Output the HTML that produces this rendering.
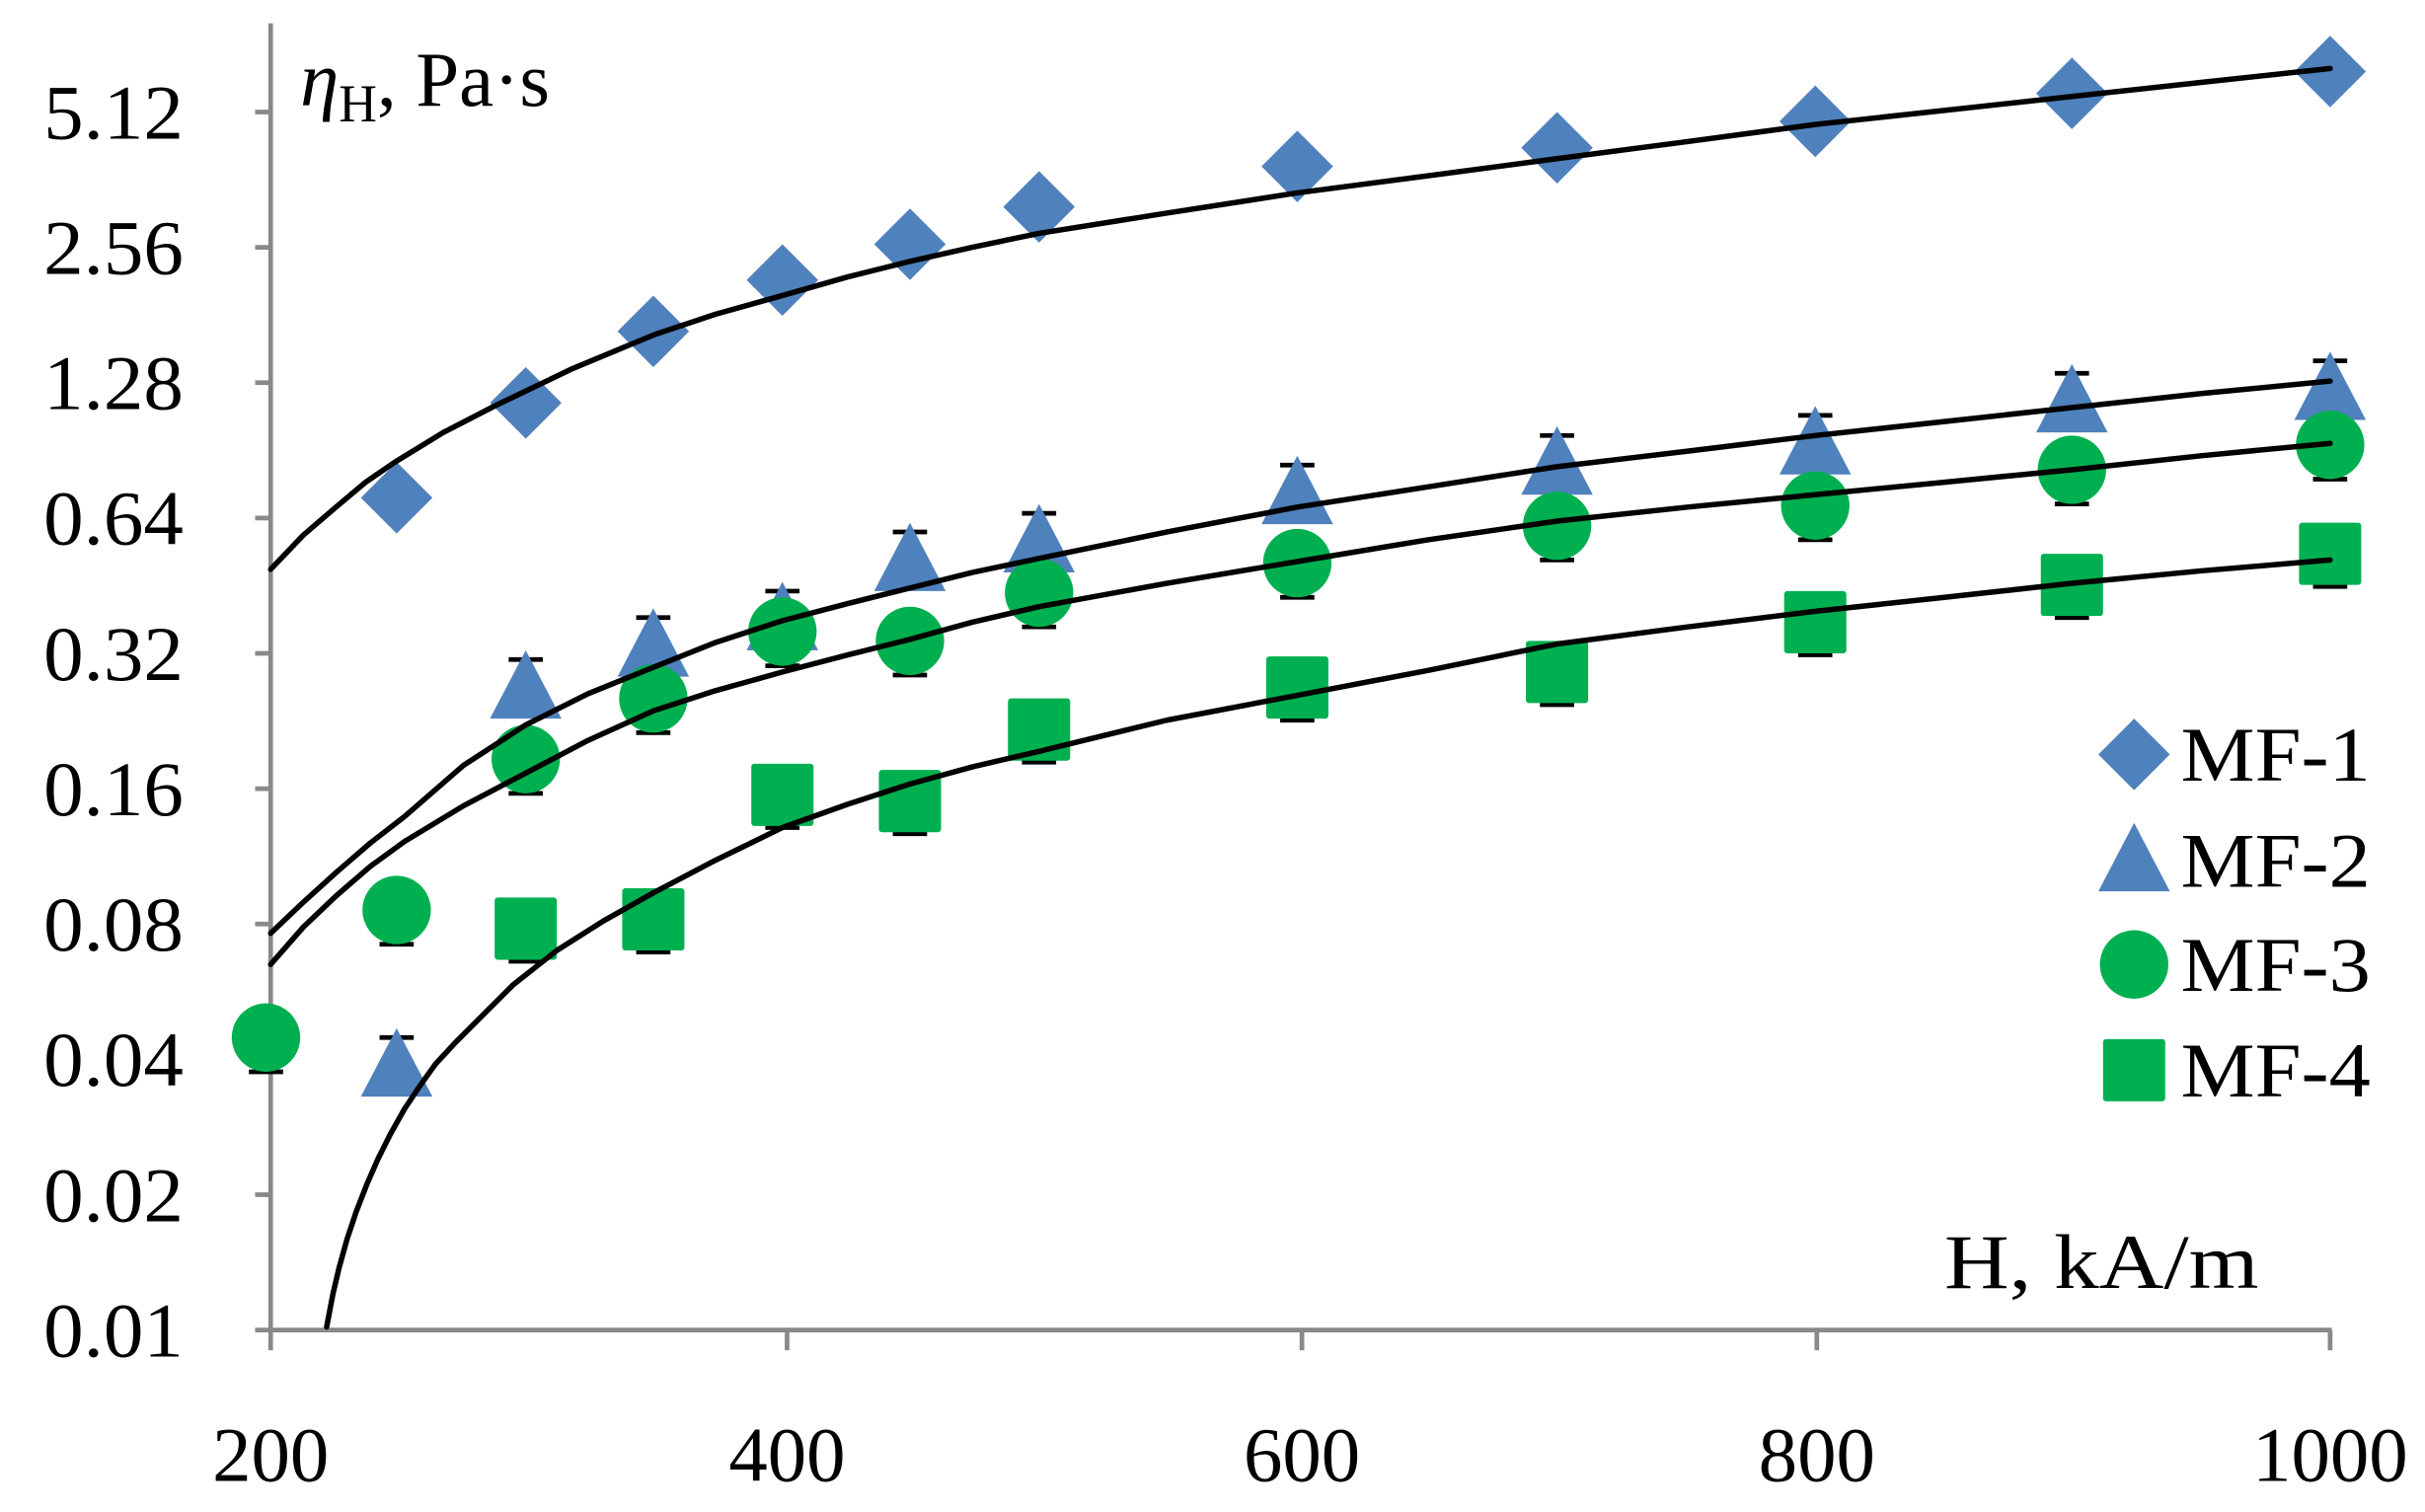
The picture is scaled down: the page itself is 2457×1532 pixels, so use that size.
<!DOCTYPE html>
<html><head><meta charset="utf-8"><style>
html,body{margin:0;padding:0;background:#fff;}
svg{display:block;}
text{font-family:"Liberation Serif",serif;fill:#000;}
</style></head><body>
<svg width="2457" height="1532" viewBox="0 0 1559 972" preserveAspectRatio="none" xmlns="http://www.w3.org/2000/svg">
<defs>
<path id="dia" d="M0,-23 L23,0 L0,23 L-23,0 Z" fill="#4F81BD"/>
<path id="tri" d="M0,-24 L23,20 L-23,20 Z" fill="#4F81BD"/>
<circle id="cir" r="22" fill="#00B050"/>
<rect id="sq" x="-20" y="-20" width="40" height="40" rx="2" fill="#00B050"/>
<path id="capu" d="M-11,-20 h22" stroke="#000" stroke-width="3"/>
<path id="capd" d="M-11,22 h22" stroke="#000" stroke-width="3"/>
<path id="capds" d="M-11,21 h22" stroke="#000" stroke-width="3"/>
</defs>
<g stroke="#898989" stroke-width="3" fill="none">
<path d="M174,15 V856"/>
<path d="M164,855 H1499"/>
<path d="M164,72 h10 M164,159 h10 M164,246 h10 M164,333 h10 M164,420 h10 M164,507 h10 M164,594 h10 M164,681 h10 M164,768 h10"/>
<path d="M174,855 v13 M506,855 v13 M837,855 v13 M1168,855 v13 M1498,855 v13"/>
</g>
<g font-size="50" text-anchor="end">
<text x="118" y="89" textLength="90" lengthAdjust="spacingAndGlyphs">5.12</text>
<text x="118" y="176" textLength="90" lengthAdjust="spacingAndGlyphs">2.56</text>
<text x="118" y="263" textLength="90" lengthAdjust="spacingAndGlyphs">1.28</text>
<text x="118" y="350" textLength="90" lengthAdjust="spacingAndGlyphs">0.64</text>
<text x="118" y="437" textLength="90" lengthAdjust="spacingAndGlyphs">0.32</text>
<text x="118" y="524" textLength="90" lengthAdjust="spacingAndGlyphs">0.16</text>
<text x="118" y="611" textLength="90" lengthAdjust="spacingAndGlyphs">0.08</text>
<text x="118" y="698" textLength="90" lengthAdjust="spacingAndGlyphs">0.04</text>
<text x="118" y="785" textLength="90" lengthAdjust="spacingAndGlyphs">0.02</text>
<text x="118" y="872" textLength="90" lengthAdjust="spacingAndGlyphs">0.01</text>
</g>
<g font-size="50" text-anchor="middle">
<text x="174" y="952">200</text>
<text x="506" y="952">400</text>
<text x="837" y="952">600</text>
<text x="1168" y="952">800</text>
<text x="1498" y="952">1000</text>
</g>
<text x="193" y="68" font-size="50"><tspan font-style="italic">η</tspan><tspan font-size="34" dy="10">H</tspan><tspan dy="-10">, Pa·s</tspan></text>
<text x="1452" y="828" font-size="50" text-anchor="end" textLength="202" lengthAdjust="spacingAndGlyphs">H, kA/m</text>

<g>
<use href="#capu" x="255" y="687"/><use href="#capu" x="338" y="444"/><use href="#capu" x="420" y="417"/><use href="#capu" x="503" y="400"/><use href="#capu" x="585" y="362"/><use href="#capu" x="668" y="350"/><use href="#capu" x="834" y="319"/><use href="#capu" x="1001" y="300"/><use href="#capu" x="1167" y="287"/><use href="#capu" x="1332" y="260"/><use href="#capu" x="1498" y="252"/>
<use href="#capd" x="171" y="667"/><use href="#capd" x="255" y="585"/><use href="#capd" x="338" y="488"/><use href="#capd" x="420" y="449"/><use href="#capd" x="503" y="406"/><use href="#capd" x="585" y="412"/><use href="#capd" x="668" y="381"/><use href="#capd" x="834" y="362"/><use href="#capd" x="1001" y="338"/><use href="#capd" x="1167" y="325"/><use href="#capd" x="1332" y="302"/><use href="#capd" x="1498" y="286"/>
<use href="#capds" x="338" y="597"/><use href="#capds" x="420" y="591"/><use href="#capds" x="503" y="511"/><use href="#capds" x="585" y="515"/><use href="#capds" x="668" y="469"/><use href="#capds" x="834" y="442"/><use href="#capds" x="1001" y="432"/><use href="#capds" x="1167" y="400"/><use href="#capds" x="1332" y="376"/><use href="#capds" x="1498" y="356"/>
</g>
<g>
<use href="#dia" x="255" y="320"/><use href="#dia" x="338" y="259"/><use href="#dia" x="420" y="213"/><use href="#dia" x="503" y="180"/><use href="#dia" x="585" y="157"/><use href="#dia" x="668" y="133"/><use href="#dia" x="834" y="107"/><use href="#dia" x="1001" y="95"/><use href="#dia" x="1167" y="78"/><use href="#dia" x="1332" y="60"/><use href="#dia" x="1498" y="46"/>
<use href="#tri" x="255" y="685"/><use href="#tri" x="338" y="442"/><use href="#tri" x="420" y="415"/><use href="#tri" x="503" y="398"/><use href="#tri" x="585" y="360"/><use href="#tri" x="668" y="348"/><use href="#tri" x="834" y="317"/><use href="#tri" x="1001" y="298"/><use href="#tri" x="1167" y="285"/><use href="#tri" x="1332" y="258"/><use href="#tri" x="1498" y="250"/>
<use href="#cir" x="171" y="667"/><use href="#cir" x="255" y="585"/><use href="#cir" x="338" y="488"/><use href="#cir" x="420" y="449"/><use href="#cir" x="503" y="406"/><use href="#cir" x="585" y="412"/><use href="#cir" x="668" y="381"/><use href="#cir" x="834" y="362"/><use href="#cir" x="1001" y="338"/><use href="#cir" x="1167" y="325"/><use href="#cir" x="1332" y="302"/><use href="#cir" x="1498" y="286"/>
<use href="#sq" x="338" y="597"/><use href="#sq" x="420" y="591"/><use href="#sq" x="503" y="511"/><use href="#sq" x="585" y="515"/><use href="#sq" x="668" y="469"/><use href="#sq" x="834" y="442"/><use href="#sq" x="1001" y="432"/><use href="#sq" x="1167" y="400"/><use href="#sq" x="1332" y="376"/><use href="#sq" x="1498" y="356"/>
</g>
<g fill="none" stroke="#000" stroke-width="3.5" stroke-linejoin="round" stroke-linecap="round">
<polyline points="174,366 195,344 216,326 235,310 254,297 285,278 318,261 368,237 421,215 460,202 503,190 545,178 585,168 625,159 668,150 750,137 834,124 918,113 1001,102 1085,91 1167,80 1250,71 1332,62 1415,53 1498,44"/>
<polyline points="174,600 195,580 216,561 238,542 260,525 298,492 338,466 378,446 420,429 460,413 503,399 545,388 585,378 625,368 668,359 750,342 834,326 918,313 1001,300 1085,290 1167,280 1250,271 1332,262 1415,253 1498,245"/>
<polyline points="174,620 195,596 216,576 238,557 260,541 298,518 338,497 378,476 420,457 460,444 503,432 545,421 585,411 625,400 668,390 750,375 834,361 918,347 1001,335 1085,326 1167,318 1250,310 1332,302 1415,293 1498,285"/>
<polyline points="210,853 214,832 218,815 223,797 229,779 236,761 243,745 251,729 260,713 270,698 280,684 292,671 305,658 330,633 358,611 388,592 420,574 460,553 503,532 545,517 585,504 625,493 668,483 750,463 834,447 918,431 1001,414 1085,403 1167,393 1250,384 1332,375 1415,367 1498,360"/>
</g>
<g>
<use href="#dia" x="1372" y="485"/>
<use href="#tri" x="1372" y="553"/>
<use href="#cir" x="1372" y="620"/>
<use href="#sq" x="1372" y="688"/>
</g>
<g font-size="50">
<text x="1402" y="502" textLength="122" lengthAdjust="spacingAndGlyphs">MF-1</text>
<text x="1402" y="570" textLength="122" lengthAdjust="spacingAndGlyphs">MF-2</text>
<text x="1402" y="637" textLength="122" lengthAdjust="spacingAndGlyphs">MF-3</text>
<text x="1402" y="705" textLength="122" lengthAdjust="spacingAndGlyphs">MF-4</text>
</g>
</svg>
</body></html>
